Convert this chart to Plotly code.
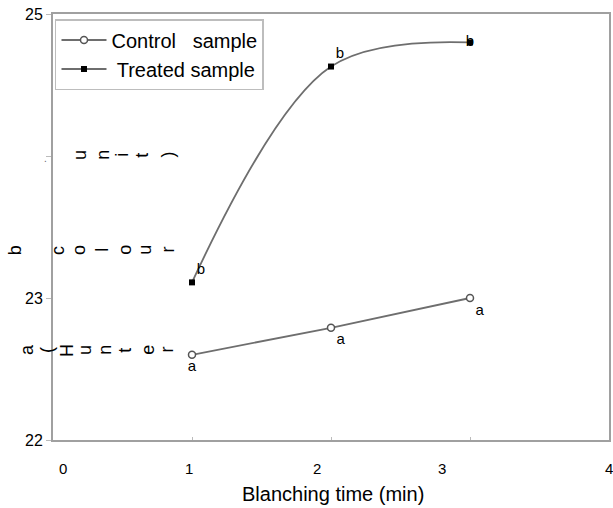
import plotly.graph_objects as go

# ---- data ----
blanch_time = [1, 2, 3]
control_vals = [22.60, 22.79, 23.00]
treated_vals = [23.11, 24.63, 24.80]
control_letters = ["a", "a", "a"]
treated_letters = ["b", "b", "b"]
series_names = ["Control   sample", " Treated sample"]
x_tick_labels = ["0", "1", "2", "3", "4"]
x_tick_label_pos = [0.07, 0.98, 1.90, 2.80, 4.0]   # labels drawn slightly off the ticks, as in the original
y_tick_vals = [22, 23, 24, 25]
y_tick_text = ["22", "23", "", "25"]
x_title = "Blanching time (min)"

FONT = "Liberation Sans, Arial, sans-serif"
W, H = 613, 508
L, R, T, B = 53, 2, 14, 68
PW, PH = W - L - R, H - T - B

def px(xp):
    return (xp - L) / PW

def py(yp):
    return (H - B - yp) / PH

fig = go.Figure()
fig.add_trace(go.Scatter(
    x=blanch_time, y=control_vals, name=series_names[0],
    mode="lines+markers+text", text=control_letters,
    textposition=["bottom center", "bottom right", "bottom right"],
    textfont=dict(family=FONT, size=15, color="black"),
    line=dict(color="#6e6e6e", width=1.8),
    marker=dict(symbol="circle", size=7, color="white", line=dict(color="#555", width=1.5)),
))
fig.add_trace(go.Scatter(
    x=blanch_time, y=treated_vals, name=series_names[1],
    mode="lines+markers+text", text=treated_letters,
    textposition=["top right", "top right", "middle center"],
    textfont=dict(family=FONT, size=15, color="black"),
    line=dict(color="#6e6e6e", width=1.8, shape="spline", smoothing=1.0),
    marker=dict(symbol="square", size=6, color="black"),
))

annotations = []
for lab, pos in zip(x_tick_labels, x_tick_label_pos):
    annotations.append(dict(x=pos, y=py(468), xref="x", yref="paper", text=lab,
                            showarrow=False, font=dict(family=FONT, size=15, color="black"),
                            xanchor="center", yanchor="middle"))
annotations.append(dict(x=px(334), y=py(494), xref="paper", yref="paper", text=x_title,
                        showarrow=False, font=dict(family=FONT, size=20, color="black"),
                        xanchor="center", yanchor="middle"))

# garbled rotated y-axis title letters (as in the original)
title_rows = [
    (155, [("u", 80), ("n", 103), ("i", 122), ("t", 142), (")", 168)]),
    (250, [("b", 15), ("c", 58), ("o", 79), ("l", 102), ("o", 125), ("u", 145), ("r", 168)]),
    (350, [("a", 27), ("(", 47), ("H", 67), ("u", 85), ("n", 105), ("t", 125), ("e", 148), ("r", 167)]),
]
for yrow, letters in title_rows:
    for ch, xl in letters:
        annotations.append(dict(x=px(xl), y=py(yrow), xref="paper", yref="paper", text=ch,
                                showarrow=False, textangle=-90,
                                font=dict(family=FONT, size=18, color="black"),
                                xanchor="center", yanchor="middle"))
annotations.append(dict(x=px(45), y=py(158), xref="paper", yref="paper", text=".",
                        showarrow=False, font=dict(family=FONT, size=10, color="#666"),
                        xanchor="center", yanchor="middle"))

fig.update_layout(
    width=W, height=H,
    margin=dict(l=L, r=R, t=T, b=B),
    paper_bgcolor="white", plot_bgcolor="white",
    font=dict(family=FONT, size=15, color="black"),
    showlegend=True,
    legend=dict(x=px(55), y=py(19), xanchor="left", yanchor="top",
                bgcolor="white", bordercolor="#bdbdbd", borderwidth=1.5,
                font=dict(family=FONT, size=20, color="black"),
                tracegroupgap=0, itemwidth=45),
    annotations=annotations,
    xaxis=dict(range=[0, 4], showgrid=False, zeroline=False,
               showline=True, linecolor="#a0a0a0", linewidth=2, mirror=True,
               tickvals=[0, 1, 2, 3, 4], ticks="inside", ticklen=3, tickcolor="#bbb",
               showticklabels=False),
    yaxis=dict(range=[22, 25], showgrid=False, zeroline=False,
               showline=True, linecolor="#a0a0a0", linewidth=2, mirror=True,
               tickvals=y_tick_vals, ticktext=y_tick_text, ticks="outside",
               ticklen=5, tickcolor="#bbb", tickfont=dict(family=FONT, size=16, color="black")),
)

fig.write_html("out.html")
